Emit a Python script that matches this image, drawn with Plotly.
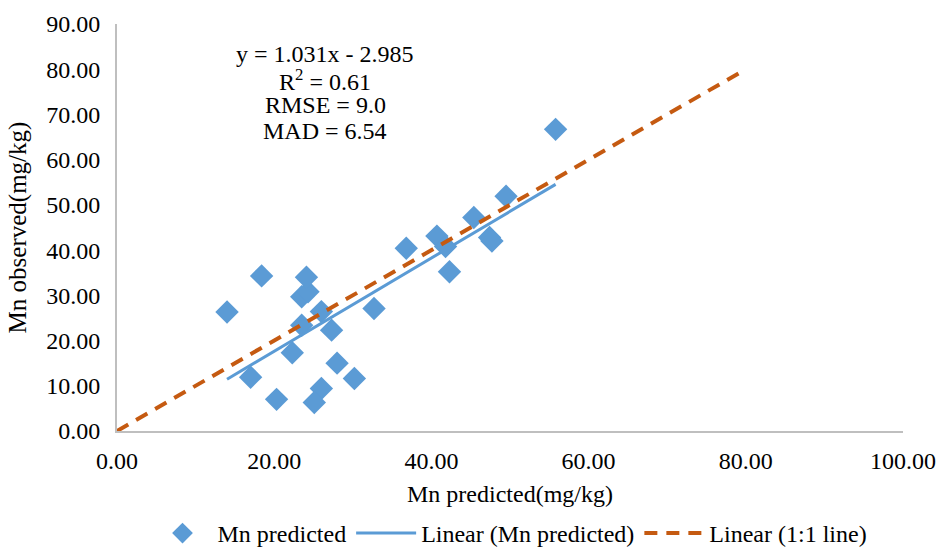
import plotly.graph_objects as go

# Data
mn_predicted = [14.0, 18.4, 17.0, 20.3, 22.3, 23.5, 23.5, 24.3, 24.1, 26.0,
                27.3, 28.0, 30.2, 26.0, 25.1, 32.7, 36.8, 40.7, 41.8, 42.3,
                45.4, 47.4, 47.7, 49.5, 55.8]
mn_observed = [26.3, 34.3, 11.9, 7.0, 17.3, 23.4, 29.7, 30.8, 34.0, 26.4,
               22.3, 15.0, 11.6, 9.4, 6.3, 27.1, 40.4, 43.1, 40.8, 35.2,
               47.2, 42.8, 42.0, 51.9, 66.7]
slope = 1.031
intercept = -2.985
one_to_one = [0, 80]
x_ticks = [0, 20, 40, 60, 80, 100]
y_ticks = [0, 10, 20, 30, 40, 50, 60, 70, 80, 90]
stats_lines = [f"y = {slope}x - {abs(intercept)}", "R<sup>2</sup> = 0.61",
               "RMSE = 9.0", "MAD = 6.54"]

xmin, xmax = min(mn_predicted), max(mn_predicted)
fit_x = [xmin, xmax]
fit_y = [slope * v + intercept for v in fit_x]

FONT = "Times New Roman, Liberation Serif, serif"
BLUE = "#5b9bd5"
ORANGE = "#c55a11"

fig = go.Figure()
fig.add_trace(go.Scatter(x=mn_predicted, y=mn_observed, mode="markers",
                         name="Mn predicted",
                         marker=dict(symbol="diamond", size=18, color=BLUE)))
fig.add_trace(go.Scatter(x=fit_x, y=fit_y, mode="lines",
                         name="Linear (Mn predicted)",
                         line=dict(color=BLUE, width=3)))
fig.add_trace(go.Scatter(x=one_to_one, y=one_to_one, mode="lines",
                         name="Linear (1:1 line)",
                         line=dict(color=ORANGE, width=4, dash="13px,9px")))

line_y = [0.926, 0.862, 0.801, 0.737]
for txt, yy in zip(stats_lines, line_y):
    fig.add_annotation(
        x=0.265, y=yy, xref="paper", yref="paper", showarrow=False,
        xanchor="center", yanchor="middle", text=txt,
        font=dict(family=FONT, size=24, color="#000"))

axis_common = dict(showgrid=False, zeroline=False, showline=True,
                   linecolor="#bfbfbf", linewidth=2, ticks="",
                   automargin=False,
                   tickfont=dict(family=FONT, size=24, color="#000"),
                   tickformat=".2f")

fig.update_xaxes(range=[0, 100], tickvals=x_ticks, ticklabelstandoff=7,
                 title=dict(text="Mn predicted(mg/kg)",
                            font=dict(family=FONT, size=24, color="#000"),
                            standoff=12),
                 **axis_common)
fig.update_yaxes(range=[0, 90], tickvals=y_ticks, ticklabelstandoff=10,
                 title=dict(text="Mn observed(mg/kg)",
                            font=dict(family=FONT, size=25, color="#000"),
                            standoff=12),
                 **axis_common)

fig.update_layout(
    width=936, height=550,
    margin=dict(l=117, r=33, t=24, b=119, autoexpand=False),
    plot_bgcolor="white", paper_bgcolor="white",
    font=dict(family=FONT, size=24, color="#000"),
    legend=dict(orientation="h", x=0.5, xanchor="center",
                yref="container", y=0.03, yanchor="middle",
                itemwidth=60, tracegroupgap=0,
                font=dict(family=FONT, size=24, color="#000")),
    showlegend=True,
)

fig.write_html("out.html",
               config={"displayModeBar": False},
               post_script="document.body.style.margin='0';")
